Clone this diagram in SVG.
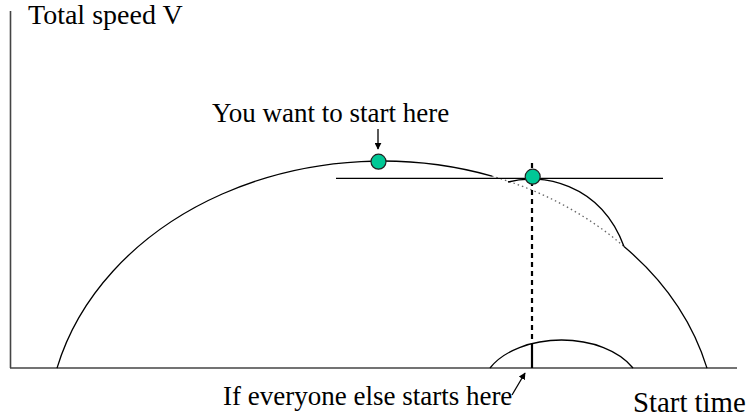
<svg xmlns="http://www.w3.org/2000/svg" width="749" height="417" viewBox="0 0 749 417">
<defs>
<style>
.t{font-family:"Liberation Serif","Times New Roman",serif;font-size:27px;fill:#000}
.c{fill:none;stroke:#000;stroke-width:1.3}
.ax{fill:none;stroke:#444;stroke-width:1.6}
.dot{fill:none;stroke:#666;stroke-width:1.3;stroke-dasharray:1.5 3}
.dash{fill:none;stroke:#000;stroke-width:2.2;stroke-dasharray:5 4}
.pt{fill:#00C896;stroke:#222;stroke-width:1.2}
.ar{fill:none;stroke:#000;stroke-width:1.3}
</style>
<marker id="ah" viewBox="0 0 10 10" refX="9" refY="5" markerWidth="7" markerHeight="7" markerUnits="userSpaceOnUse" orient="auto">
<path d="M0,0 L10,5 L0,10 z" fill="#000"/>
</marker>
</defs>
<g id="axes">
<line class="ax" x1="10.5" y1="11" x2="10.5" y2="368"/>
<line class="ax" x1="10" y1="368" x2="737" y2="368"/>
</g>
<g id="connectors">
<path class="c" d="M57,368.1 A334.6 271.7 0 0 1 492,176.1"/>
<path class="dot" d="M492,176.1 A334.6 271.7 0 0 1 624,246.5"/>
<path class="c" d="M624,246.5 A334.6 271.7 0 0 1 707,368.1"/>
<path class="c" d="M508,182 C540,173 600,182 624,246.5"/>
<line class="c" x1="336" y1="178.3" x2="663" y2="178.3"/>
<path class="c" d="M490,368 A80 50.8 0 0 1 633,368"/>
<line class="dash" x1="532" y1="163" x2="532" y2="344"/>
<line x1="532" y1="344" x2="532" y2="368" stroke="#000" stroke-width="2.2"/>
<line class="ar" x1="378" y1="129" x2="378" y2="149" marker-end="url(#ah)"/>
<line class="ar" x1="512" y1="395" x2="525" y2="373" marker-end="url(#ah)"/>
</g>
<g id="node-want">
<circle class="pt" cx="378.5" cy="161.7" r="7.5"/>
</g>
<g id="node-else">
<circle class="pt" cx="532.7" cy="176.7" r="7.5"/>
</g>
<g id="labels">
<text class="t" x="28" y="24" style="font-size:28px">Total speed V</text>
<text class="t" x="212" y="122">You want to start here</text>
<text class="t" x="223" y="405">If everyone else starts here</text>
<text class="t" x="633" y="412" style="font-size:28.8px">Start time</text>
</g>
</svg>
